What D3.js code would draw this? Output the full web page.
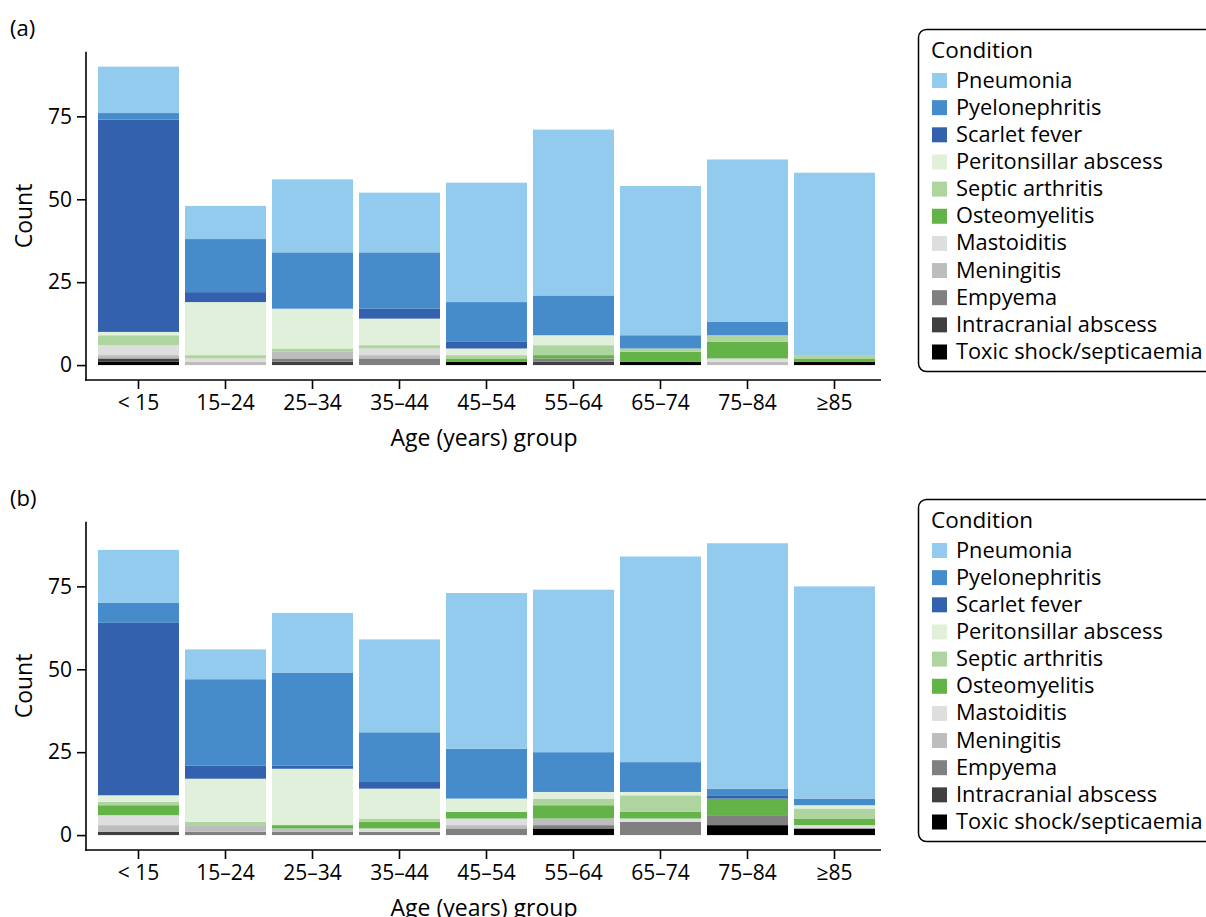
<!DOCTYPE html>
<html><head><meta charset="utf-8">
<script src="https://cdn.jsdelivr.net/npm/d3@7"></script>
<style>body{margin:0;background:#fff} text{font-family:"Open Sans",sans-serif;fill:#000}</style>
</head><body><svg id="c" width="1206" height="917"></svg>
<script>
const ageGroups = ["< 15","15–24","25–34","35–44","45–54","55–64","65–74","75–84","≥85"];
const conditions = ["Pneumonia","Pyelonephritis","Scarlet fever","Peritonsillar abscess","Septic arthritis","Osteomyelitis","Mastoiditis","Meningitis","Empyema","Intracranial abscess","Toxic shock/septicaemia"];
const conditionColors = ["#93cbee","#468cca","#3361ad","#e1f0da","#aed49f","#63b348","#dedede","#bdbdbd","#808080","#404040","#000000"];
const yTicks = [0,25,50,75];

// Panel (a)
const aPneumonia    = [14,10,22,18,36,50,45,49,55];
const aPyelo        = [2,16,17,17,12,12,4,4,0];
const aScarlet      = [64,3,0,3,2,0,0,0,0];
const aPeritonsillar= [1,16,12,8,2,3,0,0,0];
const aSeptic       = [3,1,1,1,1,3,1,2,1];
const aOsteo        = [0,0,0,0,1,1,3,5,1];
const aMastoiditis  = [3,1,0,2,0,0,0,1,0];
const aMeningitis   = [1,1,2,1,0,0,0,1,0];
const aEmpyema      = [0,0,1,2,0,1,0,0,0];
const aIntracranial = [1,0,1,0,0,1,0,0,0];
const aToxic        = [1,0,0,0,1,0,1,0,1];

// Panel (b)
const bPneumonia    = [16,9,18,28,47,49,62,74,64];
const bPyelo        = [6,26,28,15,15,12,9,2,2];
const bScarlet      = [52,4,1,2,0,0,0,1,0];
const bPeritonsillar= [2,13,17,9,4,2,1,0,1];
const bSeptic       = [1,1,0,1,0,2,5,0,3];
const bOsteo        = [3,0,1,2,2,4,2,5,2];
const bMastoiditis  = [3,0,0,1,2,0,1,0,1];
const bMeningitis   = [2,2,1,0,1,2,0,0,0];
const bEmpyema      = [0,1,1,1,2,1,4,3,0];
const bIntracranial = [1,0,0,0,0,0,0,0,0];
const bToxic        = [0,0,0,0,0,2,0,3,2];

const seriesA = [aPneumonia,aPyelo,aScarlet,aPeritonsillar,aSeptic,aOsteo,aMastoiditis,aMeningitis,aEmpyema,aIntracranial,aToxic];
const seriesB = [bPneumonia,bPyelo,bScarlet,bPeritonsillar,bSeptic,bOsteo,bMastoiditis,bMeningitis,bEmpyema,bIntracranial,bToxic];

function table(series){
  return ageGroups.map((g,i)=>{
    const row = {group:g};
    conditions.forEach((c,j)=>row[c]=series[j][i]);
    return row;
  });
}

const svg = d3.select("#c");
const color = d3.scaleOrdinal().domain(conditions).range(conditionColors);
const stackKeys = conditions.slice().reverse();

function drawPanel(series, label, dy){
  const g = svg.append("g").attr("transform",`translate(0,${dy})`);
  const x = d3.scaleBand().domain(ageGroups).range([95,878]).paddingInner(0.069).paddingOuter(0.0345);
  const y = d3.scaleLinear().domain([-4.5,94.5]).range([380,51.7]);
  const stacked = d3.stack().keys(stackKeys)(table(series));
  g.append("g").selectAll("g").data(stacked).join("g")
    .attr("fill",d=>color(d.key))
    .selectAll("rect").data(d=>d).join("rect")
    .attr("x",d=>x(d.data.group)).attr("width",x.bandwidth())
    .attr("y",d=>y(d[1])).attr("height",d=>y(d[0])-y(d[1]));

  // y axis
  const ya = g.append("g").attr("transform","translate(86,0)")
    .call(d3.axisLeft(y).tickValues(yTicks).tickSize(9).tickPadding(5));
  ya.select(".domain").remove();
  ya.selectAll(".tick line").attr("stroke","#000").attr("stroke-width",1.6);
  ya.selectAll(".tick text").attr("font-size",21).attr("font-family","Open Sans");
  g.append("line").attr("x1",86).attr("x2",86).attr("y1",51.7).attr("y2",380.8).attr("stroke","#000").attr("stroke-width",1.6);

  // x axis
  const xa = g.append("g").attr("transform","translate(0,380)")
    .call(d3.axisBottom(x).tickSize(9).tickPadding(6));
  xa.select(".domain").remove();
  xa.selectAll(".tick line").attr("stroke","#000").attr("stroke-width",1.6);
  xa.selectAll(".tick text").attr("font-size",21).attr("font-family","Open Sans");
  g.append("line").attr("x1",85.2).attr("x2",881).attr("y1",380).attr("y2",380).attr("stroke","#000").attr("stroke-width",1.6);

  g.append("text").attr("x",484).attr("y",446).attr("text-anchor","middle").attr("font-size",23).text("Age (years) group");
  g.append("text").attr("transform","translate(32,216) rotate(-90)").attr("text-anchor","middle").attr("font-size",23).text("Count");
  g.append("text").attr("x",10).attr("y",36).attr("font-size",22).text(label);

  // legend
  const lg = g.append("g");
  lg.append("rect").attr("x",918.5).attr("y",29.5).attr("width",300).attr("height",342).attr("rx",8)
    .attr("fill","#fff").attr("stroke","#000").attr("stroke-width",1.5);
  lg.append("text").attr("x",931).attr("y",58).attr("font-size",22.5).text("Condition");
  const items = lg.selectAll("g.item").data(conditions).join("g").attr("class","item")
    .attr("transform",(d,i)=>`translate(932,${73 + i*27.15})`);
  items.append("rect").attr("width",15).attr("height",15).attr("fill",d=>color(d));
  items.append("text").attr("x",24).attr("y",14.5).attr("font-size",21.8).text(d=>d);
}

drawPanel(seriesA,"(a)",0);
drawPanel(seriesB,"(b)",470);
</script></body></html>
